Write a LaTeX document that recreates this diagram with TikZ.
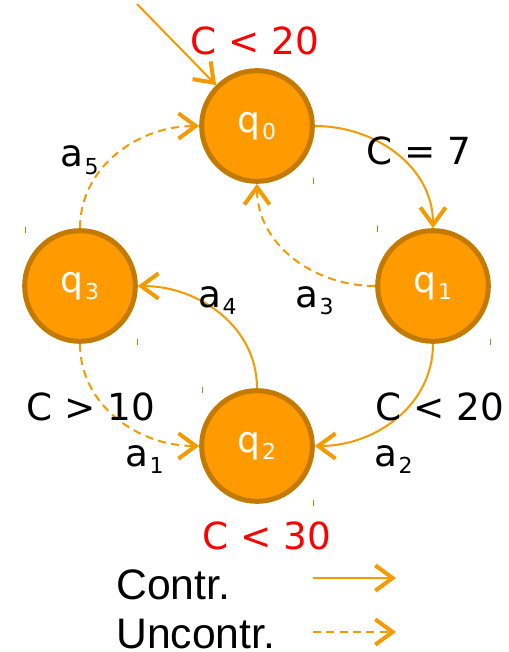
\documentclass[tikz,border=0pt]{standalone}
\usepackage{fontspec}
\setmainfont{DejaVu Sans}
\newfontfamily\legendfont{Liberation Sans}
\usetikzlibrary{arrows.meta}
\definecolor{edgeor}{HTML}{F59A00}
\definecolor{nodefill}{HTML}{FF9A00}
\definecolor{nodeline}{HTML}{C47A00}
\definecolor{labred}{HTML}{FF0000}
\newcommand{\sbs}[1]{\kern0.04em\raisebox{-0.2em}{\fontsize{16.5}{18}\selectfont #1}}
\tikzset{
  state/.style={circle, fill=nodefill, draw=nodeline, line width=3.75pt,
    minimum size=83pt, inner sep=0pt, text=white, font=\fontsize{27}{30}\selectfont},
  tip/.style={-{Straight Barb[length=13pt,width=19pt,line width=3pt]}},
  ctrl/.style={draw=edgeor, line width=1.5pt, tip},
  unctrl/.style={ctrl, dash pattern=on 6pt off 4pt},
  lab/.style={anchor=base west, inner sep=0pt, font=\fontsize{28}{31}\selectfont},
  redlab/.style={lab, text=labred},
  leg/.style={anchor=base west, inner sep=0pt, font=\legendfont\fontsize{32}{35}\selectfont},
  tick/.style={draw=nodeline, line width=0.75pt}
}
\begin{document}
\begin{tikzpicture}[x=0.75pt,y=-0.75pt]
\useasboundingbox (0,0) rectangle (508,652);
% states
\node[state] (q0) at (257,126) {q\sbs{0}};
\node[state] (q1) at (433,286) {q\sbs{1}};
\node[state] (q2) at (257,446) {q\sbs{2}};
\node[state] (q3) at (80,286) {q\sbs{3}};
% tiny marks
\draw[tick] (313,178) -- (313,184);
\draw[tick] (25,227) -- (25,233);
\draw[tick] (137,339) -- (137,345);
\draw[tick] (377,226) -- (377,232);
\draw[tick] (490,339) -- (490,345);
\draw[tick] (202,387) -- (202,393);
\draw[tick] (313,500) -- (313,506);
% initial
\coordinate (init) at (137,4);
\draw[ctrl] (init) -- (q0.135);
% transitions
\draw[ctrl] (q0.east) to[out=0,in=90] (q1.north);
\draw[unctrl] (q1.west) to[out=180,in=-90] (q0.south);
\draw[ctrl] (q1.south) to[out=-90,in=0] (q2.east);
\draw[ctrl] (q2.north) to[out=90,in=0] (q3.east);
\draw[unctrl] (q3.south) to[out=-90,in=180] (q2.west);
\draw[unctrl] (q3.north) to[out=90,in=180] (q0.west);
% labels
\node[redlab] (l0) at (190,55) {C < 20};
\node[lab] (l1) at (366,165) {C = 7};
\node[lab] (l5) at (60,167) {a\sbs{5}};
\node[lab] (l3) at (295,307) {a\sbs{3}};
\node[lab] (l4) at (198,307) {a\sbs{4}};
\node[lab] (l6) at (26,420) {C > 10};
\node[lab] (l7) at (125,466) {a\sbs{1}};
\node[lab] (l8) at (375,420) {C < 20};
\node[lab] (l9) at (374,466) {a\sbs{2}};
\node[redlab] (l10) at (202,549) {C < 30};
% legend
\node[leg] (lc) at (116,599) {Contr.};
\node[leg] (lu) at (116,648) {Uncontr.};
\coordinate (c1) at (313,578);
\coordinate (c2) at (396,578);
\coordinate (u1) at (313,632);
\coordinate (u2) at (396,632);
\draw[ctrl] (c1) -- (c2);
\draw[unctrl] (u1) -- (u2);
\end{tikzpicture}
\end{document}
